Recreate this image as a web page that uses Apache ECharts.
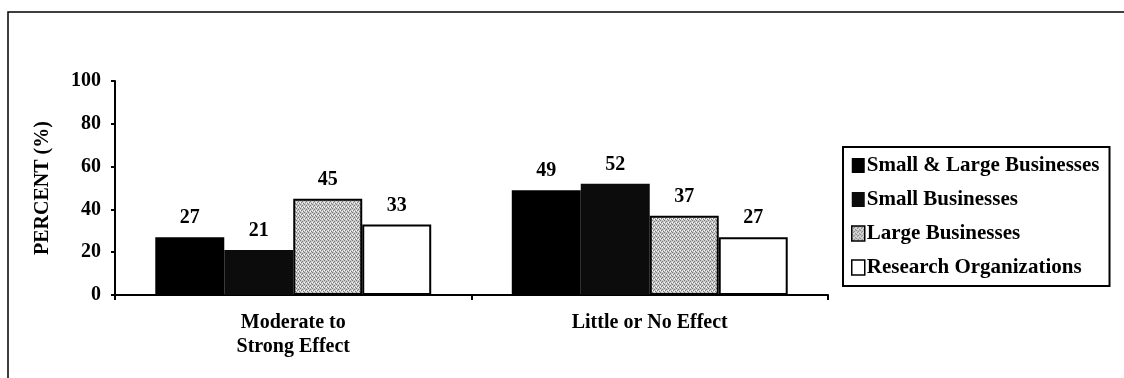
<!DOCTYPE html>
<html>
<head>
<meta charset="utf-8">
<script src="https://cdn.jsdelivr.net/npm/echarts@6/dist/echarts.min.js"></script>
<style>
  html, body { margin: 0; padding: 0; background: #fff; }
  #chart { width: 1124px; height: 378px; }
</style>
</head>
<body>
<div id="chart"></div>
<script>
const categories = ['Moderate to\nStrong Effect', 'Little or No Effect'];
const seriesNames = ['Small & Large Businesses', 'Small Businesses', 'Large Businesses', 'Research Organizations'];
const smallAndLarge = [27, 49];
const smallOnly = [21, 52];
const largeOnly = [45, 37];
const research = [33, 27];
const yTicks = [0, 20, 40, 60, 80, 100];

// stipple texture for the "Large Businesses" bars (style only)
function makeStipple() {
  const c = document.createElement('canvas');
  c.width = 4; c.height = 4;
  const g = c.getContext('2d');
  g.fillStyle = '#c8c8c8';
  g.fillRect(0, 0, 4, 4);
  g.fillStyle = '#7a7a7a';
  g.fillRect(0, 0, 1, 1); g.fillRect(2, 1, 1, 1); g.fillRect(1, 2, 1, 1); g.fillRect(3, 3, 1, 1);
  g.fillStyle = '#ffffff';
  g.fillRect(2, 3, 1, 1); g.fillRect(0, 2, 1, 1);
  return c;
}
const stipple = { image: makeStipple(), repeat: 'repeat' };

const font = '"Liberation Serif", "Times New Roman", serif';
const styles = [
  { color: '#000000', borderColor: '#000', borderWidth: 0 },
  { color: '#0c0c0c', borderColor: '#000', borderWidth: 0 },
  { color: stipple, borderColor: '#000', borderWidth: 2 },
  { color: '#ffffff', borderColor: '#000', borderWidth: 2 }
];
const dataSets = [smallAndLarge, smallOnly, largeOnly, research];

const chart = echarts.init(document.getElementById('chart'), null, { renderer: 'canvas' });
chart.setOption({
  animation: false,
  backgroundColor: '#ffffff',
  textStyle: { fontFamily: font },
  grid: { left: 115, right: 296, top: 81, bottom: 83, containLabel: false },
  graphic: [{
    type: 'rect',
    shape: { x: 8, y: 12, width: 1300, height: 420 },
    style: { fill: 'none', stroke: '#000', lineWidth: 1.5 },
    silent: true
  }],
  legend: {
    orient: 'vertical',
    left: 843,
    top: 147,
    padding: [8, 10, 8, 8],
    itemGap: 13,
    itemWidth: 13,
    itemHeight: 15,
    icon: 'rect',
    borderColor: '#000',
    borderWidth: 2,
    backgroundColor: '#fff',
    textStyle: { fontFamily: font, fontWeight: 'bold', fontSize: 21, color: '#000', padding: [0, 0, 0, -3] },
    data: seriesNames.map((n, i) => ({ name: n, itemStyle: { borderColor: '#000', borderWidth: i >= 2 ? 1.5 : 0 } }))
  },
  xAxis: {
    type: 'category',
    data: categories,
    axisLine: { lineStyle: { color: '#000', width: 2 } },
    axisTick: { show: true, length: 5, lineStyle: { color: '#000', width: 2 } },
    axisLabel: { color: '#000', fontFamily: font, fontWeight: 'bold', fontSize: 20, lineHeight: 24, margin: 16 }
  },
  yAxis: {
    type: 'value',
    min: 0, max: 100, interval: 20,
    name: 'PERCENT (%)',
    nameLocation: 'middle',
    nameRotate: 90,
    nameGap: 62,
    nameTextStyle: { color: '#000', fontFamily: font, fontWeight: 'bold', fontSize: 20 },
    axisLine: { show: true, lineStyle: { color: '#000', width: 2 } },
    axisTick: { show: true, length: 4, lineStyle: { color: '#000', width: 2 } },
    axisLabel: { color: '#000', fontFamily: font, fontWeight: 'bold', fontSize: 20, margin: 14,
      formatter: v => yTicks.includes(v) ? String(v) : '' },
    splitLine: { show: false }
  },
  series: dataSets.map((d, i) => ({
    name: seriesNames[i],
    type: 'bar',
    data: d,
    barGap: '0%',
    barCategoryGap: '22.6%',
    itemStyle: styles[i],
    label: { show: true, position: 'top', distance: 9, color: '#000', fontFamily: font, fontWeight: 'bold', fontSize: 20 }
  }))
});
</script>
</body>
</html>
